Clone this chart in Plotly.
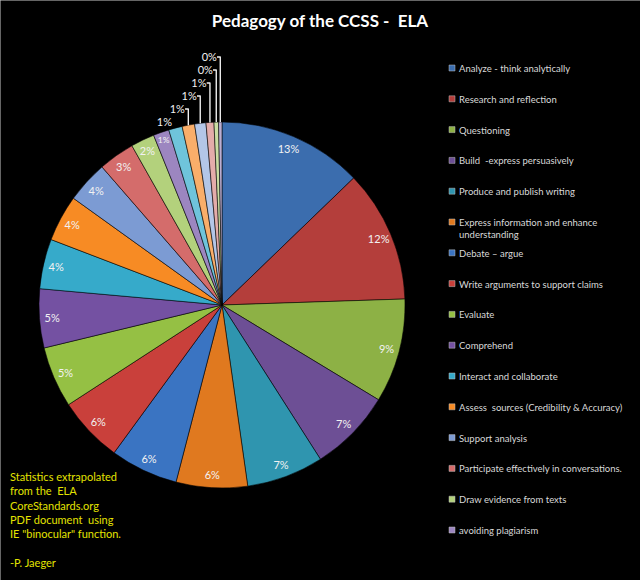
import plotly.graph_objects as go

W, H = 640, 580

# legend entries (only the first 16 categories are named in the source chart)
categories = [
    "Analyze - think analytically",
    "Research and reflection",
    "Questioning",
    "Build  -express persuasively",
    "Produce and publish writing",
    "Express information and enhance<br>understanding",
    "Debate \u2013 argue",
    "Write arguments to support claims",
    "Evaluate",
    "Comprehend",
    "Interact and collaborate",
    "Assess  sources (Credibility & Accuracy)",
    "Support analysis",
    "Participate effectively in conversations.",
    "Draw evidence from texts",
    "avoiding plagiarism",
]

# slice shares in %, clockwise from 12 o'clock
shares = [12.8, 11.7, 9.2, 7.3, 6.8, 6.3, 6.0, 5.8, 5.4, 5.2, 4.4,
          4.1, 3.7, 3.2, 2.1, 1.4, 1.2, 1.1, 1.0, 0.7, 0.4, 0.3]

slice_colors = [
    "#3B6DAE", "#B43E3B", "#8DB145", "#6D4F95", "#2F95AF", "#E0791F",
    "#3A74C2", "#C9403B", "#95C044", "#7451A2", "#36AACA", "#F78B24",
    "#7C9BD3", "#D46C6B", "#B3D17C", "#9C86C0", "#6FC4DB", "#F9AE6A",
    "#B3C6E7", "#E4ACAA", "#CADDA3", "#BBAED2",
]

n = len(shares)
n_inside = 16


def px(x):
    return x / W


def py(y):
    return 1 - y / H


pie_domain = dict(x=[px(39), px(405)], y=[py(488), py(122)])

fig = go.Figure()

# the pie itself
fig.add_trace(go.Pie(
    values=shares,
    sort=False,
    direction="clockwise",
    rotation=0,
    marker=dict(colors=slice_colors, line=dict(color="rgba(0,0,0,0.55)", width=1)),
    textinfo="none",
    hoverinfo="skip",
    domain=pie_domain,
    showlegend=False,
))

# transparent ring on top, only to put the % labels near the rim
fig.add_trace(go.Pie(
    values=shares,
    sort=False,
    direction="clockwise",
    rotation=0,
    hole=0.86,
    marker=dict(colors=["rgba(0,0,0,0)"] * n, line=dict(width=0)),
    texttemplate="%{percent:.0%}",
    textposition=["inside"] * n_inside + ["outside"] * (n - n_inside),
    insidetextorientation="horizontal",
    textfont=dict(family="Lato", size=11, color="#F2F2F2"),
    outsidetextfont=dict(family="Lato", size=11, color="#F2F2F2"),
    hoverinfo="skip",
    domain=pie_domain,
    showlegend=False,
))

# legend drawn by hand so it stops after 16 entries like the original
legend_top = 68
legend_step = 30.8
shapes = []
annotations = []
for i, name in enumerate(categories):
    yc = legend_top + i * legend_step
    shapes.append(dict(
        type="rect", xref="paper", yref="paper",
        x0=px(449), x1=px(455), y0=py(yc + 3), y1=py(yc - 3),
        fillcolor=slice_colors[i], line=dict(color="#BFBFBF", width=0.5),
    ))
    annotations.append(dict(
        x=px(457), y=py(yc - 7), xref="paper", yref="paper",
        xanchor="left", yanchor="top", align="left",
        text=name, showarrow=False,
        font=dict(family="Lato", size=9.5, color="#D9D9D9"),
    ))

# source note
annotations.append(dict(
    x=px(8), y=py(468), xref="paper", yref="paper",
    xanchor="left", yanchor="top", align="left", showarrow=False,
    text=("Statistics extrapolated<br>from the  ELA<br>CoreStandards.org<br>"
          "PDF document  using<br>IE \"binocular\" function.<br><br>-P. Jaeger"),
    font=dict(family="Lato", size=11, color="#E3E300"),
))

# thin frame at the top / left like the screenshot
shapes.append(dict(type="line", xref="paper", yref="paper",
                   x0=0, x1=1, y0=1, y1=1, line=dict(color="#CCCCCC", width=1)))
shapes.append(dict(type="line", xref="paper", yref="paper",
                   x0=0, x1=0, y0=0, y1=1, line=dict(color="#CCCCCC", width=1)))

fig.update_layout(
    width=W, height=H,
    margin=dict(l=0, r=0, t=0, b=0),
    paper_bgcolor="black",
    plot_bgcolor="black",
    title=dict(
        text="<b>Pedagogy of the CCSS -  ELA</b>",
        x=0.5, xanchor="center", y=py(21), yanchor="middle",
        font=dict(family="Lato", size=17, color="white"),
    ),
    shapes=shapes,
    annotations=annotations,
)

# page has an 8px body margin by default; drop it so the chart fills the window
fig.write_html("out.html", config={"displayModeBar": False},
               post_script="document.body.style.margin = '0';")
